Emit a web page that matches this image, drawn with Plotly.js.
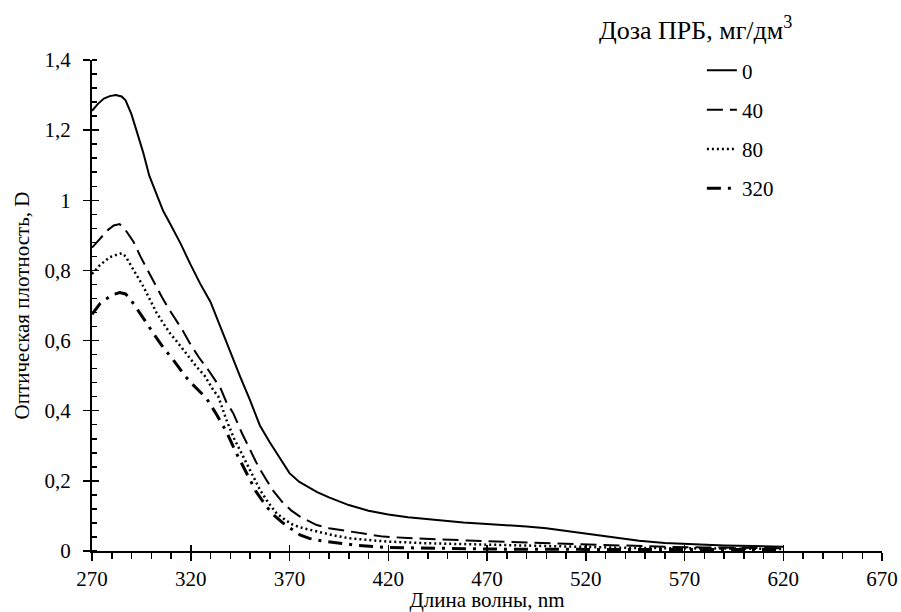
<!DOCTYPE html>
<html>
<head>
<meta charset="utf-8">
<script src="https://cdn.plot.ly/plotly-3.0.1.min.js"></script>
<style>
html,body{margin:0;padding:0;background:#fff;}
#chart{width:901px;height:612px;}
#chart text{font-family:'Liberation Serif','Times New Roman',serif !important;}
</style>
</head>
<body>
<div id="chart"></div>
<script>
const seriesNames = ["0", "40", "80", "320"];

const wl0 = [270,273,276,279,282,285,287,290,293,296,299,303,306,309.5,315,319.6,324.7,330,334,340,345,350,355,360,363.5,367,370,375,380,384,390,400,410,420,430,446,458,470,480,490,500,510,522,535,547,560,570,590,605,620];
const d0  = [1.255,1.275,1.29,1.297,1.30,1.296,1.285,1.245,1.19,1.135,1.07,1.01,0.97,0.934,0.875,0.82,0.763,0.71,0.652,0.57,0.497,0.43,0.358,0.31,0.279,0.247,0.222,0.197,0.18,0.168,0.153,0.131,0.115,0.104,0.096,0.087,0.081,0.077,0.074,0.07,0.065,0.057,0.047,0.037,0.029,0.023,0.02,0.016,0.014,0.012];

const wl40 = [270,274,278,281,284,287,291,294.5,298.5,302,305.3,308.5,312,316,319.6,324,328.9,332,335,338,341.5,346,350,354,358.4,362,366.9,371,375.3,380,383.8,390,400.6,410,417.5,430,440,460,480,500,520,540,560,580,600,620];
const d40  = [0.865,0.89,0.915,0.928,0.932,0.915,0.882,0.84,0.796,0.76,0.725,0.694,0.663,0.628,0.592,0.553,0.516,0.49,0.465,0.425,0.393,0.335,0.288,0.243,0.202,0.17,0.136,0.115,0.098,0.085,0.074,0.065,0.055,0.047,0.041,0.037,0.034,0.03,0.026,0.022,0.018,0.014,0.012,0.01,0.009,0.008];

const wl80 = [270,274,279,285,287,290,293,296,299.5,302.8,306,309.5,313,316.2,319.5,323,327,331.4,334,338.1,342,346.6,351,355.1,359,363.5,368,371.9,377,383.8,392,400.6,410,419,440,460,480,500,520,540,560,580,600,620];
const d80  = [0.79,0.815,0.838,0.849,0.84,0.811,0.782,0.754,0.715,0.678,0.65,0.621,0.597,0.573,0.549,0.525,0.5,0.459,0.44,0.373,0.32,0.269,0.22,0.174,0.14,0.107,0.088,0.074,0.065,0.055,0.045,0.036,0.031,0.027,0.022,0.019,0.016,0.013,0.011,0.009,0.008,0.007,0.006,0.006];

const wl320 = [270,274,280,284,287,289.2,292,295.1,298,301,304,307,310.5,313.7,317,320.4,324,328,333,338.1,343,348.2,353,358.4,362.5,366.9,371,375.3,380,386,395.6,405,419,440,460,480,500,520,540,560,580,600,620];
const d320  = [0.675,0.705,0.73,0.737,0.733,0.72,0.697,0.673,0.647,0.621,0.597,0.573,0.55,0.525,0.5,0.478,0.458,0.435,0.39,0.34,0.28,0.222,0.17,0.126,0.1,0.079,0.062,0.046,0.036,0.029,0.022,0.016,0.01,0.008,0.006,0.005,0.005,0.004,0.004,0.004,0.004,0.004,0.004];

const xRange = [270, 670];
const yRange = [0, 1.4];

const FONT = "Liberation Serif";

const styles = [
  {color:"#000", width:2, dash:"solid"},
  {color:"#000", width:2, dash:"16px,7px"},
  {color:"#000", width:2.5, dash:"2px,3px"},
  {color:"#000", width:3, dash:"14px,7px,3px,7px"}
];

const xs = [wl0, wl40, wl80, wl320];
const ys = [d0, d40, d80, d320];

const traces = seriesNames.map((n,i)=>({
  type:"scatter", mode:"lines", name:n, x:xs[i], y:ys[i],
  line:styles[i], legendgroup:"g"+i, xaxis:"x", yaxis:"y"
}));
// empty helper trace so the overlay axes (crossing tick marks) are drawn
traces.push({type:"scatter", mode:"lines", x:[], y:[], xaxis:"x2", yaxis:"y2", showlegend:false, hoverinfo:"skip"});

const layout = {
  width:901, height:612,
  margin:{l:92, r:19, t:60, b:61},
  paper_bgcolor:"#fff", plot_bgcolor:"#fff",
  separators:",.",
  font:{family:FONT, size:21, color:"#000"},
  showlegend:true,
  legend:{
    x:0.772, y:1.02, xanchor:"left", yanchor:"top",
    font:{family:FONT, size:21, color:"#000"},
    tracegroupgap:9, bgcolor:"rgba(0,0,0,0)"
  },
  xaxis:{
    range:xRange, tickmode:"linear", tick0:270, dtick:50,
    ticks:"outside", ticklen:8, tickwidth:1.5, tickcolor:"#000",
    minor:{tickmode:"linear", tick0:270, dtick:10, ticks:"outside", ticklen:6, tickwidth:1.5, tickcolor:"#000"},
    showline:true, linewidth:2, linecolor:"#000", showgrid:false, zeroline:false,
    ticklabelstandoff:0,
    tickfont:{family:FONT, size:21, color:"#000"},
    title:{text:"Длина волны, nm", font:{family:FONT, size:21, color:"#000"}, standoff:4},
    fixedrange:true
  },
  xaxis2:{
    range:xRange, overlaying:"x", anchor:"y2", tickmode:"linear", tick0:270, dtick:50,
    ticks:"inside", ticklen:6, tickwidth:1.5, tickcolor:"#000",
    showticklabels:false, showline:false, showgrid:false, zeroline:false
  },
  yaxis:{
    range:yRange, tickmode:"linear", tick0:0, dtick:0.2,
    ticks:"outside", ticklen:7, tickwidth:1.5, tickcolor:"#000",
    minor:{tickmode:"linear", tick0:0, dtick:0.04, ticks:"inside", ticklen:5, tickwidth:1.5, tickcolor:"#000"},
    showline:true, linewidth:2, linecolor:"#000", showgrid:false, zeroline:false,
    ticklabelstandoff:8,
    tickfont:{family:FONT, size:21, color:"#000"},
    title:{text:"Оптическая плотность, D", font:{family:FONT, size:21, color:"#000"}, standoff:9},
    fixedrange:true
  },
  yaxis2:{
    range:yRange, overlaying:"y", anchor:"x2", tickmode:"linear", tick0:0, dtick:0.2,
    ticks:"inside", ticklen:7, tickwidth:1.5, tickcolor:"#000",
    showticklabels:false, showline:false, showgrid:false, zeroline:false
  },
  annotations:[{
    xref:"paper", yref:"paper", x:0.6395, y:1.064, xanchor:"left", yanchor:"middle",
    text:"Доза ПРБ, мг/дм<sup>3</sup>", showarrow:false,
    font:{family:FONT, size:26, color:"#000"}
  }]
};

Plotly.newPlot("chart", traces, layout, {displayModeBar:false, staticPlot:true});
</script>
</body>
</html>
